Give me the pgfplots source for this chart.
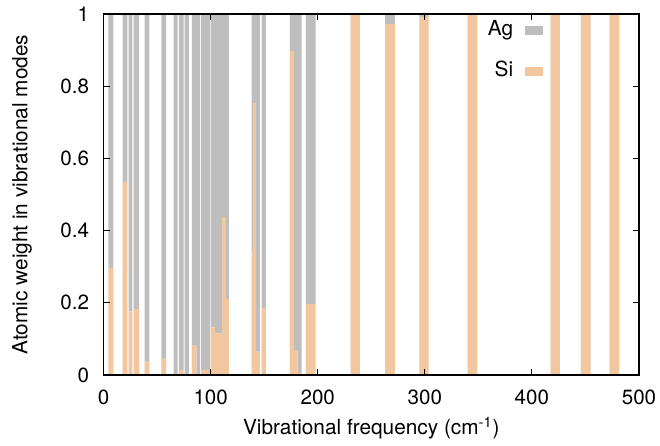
\documentclass[border=0pt]{standalone}
\usepackage{pgfplots}
\pgfplotsset{compat=1.18}
\usepackage{pgfplotstable}
\usepackage{fontspec}
\setmainfont{TeX Gyre Heros}
\definecolor{agc}{RGB}{190,190,190}
\definecolor{sic}{RGB}{242,199,160}
% each mode: rectangle edges (frequency, Si weight, Ag weight)
\pgfplotstableread{
x si ag
4.4 0 0
4.4 0.297 0.703
9.1 0.297 0.703
9.1 0 0
17.8 0 0
17.8 0.535 0.465
22.1 0.535 0.465
22.1 0 0
23.4 0 0
23.4 0.176 0.824
26.8 0.176 0.824
26.8 0 0
28.1 0 0
28.1 0.183 0.817
33.1 0.183 0.817
33.1 0 0
38.4 0 0
38.4 0.037 0.963
42.7 0.037 0.963
42.7 0 0
53.9 0 0
53.9 0.047 0.953
58.3 0.047 0.953
58.3 0 0
65.5 0 0
65.5 0 1
69.2 0 1
69.2 0 0
70.4 0 0
70.4 0.014 0.986
74.8 0.014 0.986
74.8 0 0
75.7 0 0
75.7 0 1
79.7 0 1
79.7 0 0
82.5 0 0
82.5 0.083 0.917
86.6 0.083 0.917
86.6 0 1
90.0 0 1
90.0 0 0
90.9 0 0
90.9 0.014 0.986
99.3 0.014 0.986
99.3 0 0
100 0 0
100 0.132 0.868
104 0.132 0.868
104 0.115 0.885
110.8 0.115 0.885
110.8 0.438 0.562
114.3 0.438 0.562
114.3 0.21 0.79
117.1 0.21 0.79
117.1 0 0
138.3 0 0
138.3 0.344 0.656
139.3 0.344 0.656
139.3 0.754 0.246
142.3 0.754 0.246
142.3 0.065 0.935
146 0.065 0.935
146 0 0
147.6 0 0
147.6 0.185 0.815
151.6 0.185 0.815
151.6 0 0
174 0 0
174 0.897 0.103
177.8 0.897 0.103
177.8 0.069 0.931
181.2 0.069 0.931
181.2 0.005 0.995
185 0.005 0.995
185 0 0
189 0 0
189 0.197 0.803
198 0.197 0.803
198 0 0
230.7 0 0
230.7 1 0
239.4 1 0
239.4 0 0
263 0 0
263 0.972 0.028
272.1 0.972 0.028
272.1 0 0
294.8 0 0
294.8 0.992 0.008
303.5 0.992 0.008
303.5 0 0
340 0 0
340 0.998 0.002
348.9 0.998 0.002
348.9 0 0
417.5 0 0
417.5 1 0
426.2 1 0
426.2 0 0
445.7 0 0
445.7 1 0
454.8 1 0
454.8 0 0
472.5 0 0
472.5 1 0
481.5 1 0
481.5 0 0
}\modes
\begin{document}
\begin{tikzpicture}
\begin{axis}[
  scale only axis, width=267.7pt, height=180.5pt,
  xmin=0, xmax=500, ymin=0, ymax=1,
  xtick={0,100,200,300,400,500},
  ytick={0,0.2,0.4,0.6,0.8,1},
  minor tick num=0,
  tick align=inside, major tick length=3pt,
  tick style={black, line width=0.5pt},
  axis line style={line width=0.6pt},
  axis on top,
  stack plots=y,
  /pgf/number format/assume math mode=true,
  tick label style={font=\fontsize{10.3pt}{12pt}\selectfont},
  label style={font=\fontsize{10.4pt}{12pt}\selectfont},
  xticklabel style={yshift=-4pt},
  yticklabel style={xshift=-3.7pt},
  xlabel={Vibrational frequency (cm\textsuperscript{-1})},
  ylabel={Atomic weight in vibrational modes},
  xlabel style={at={(axis description cs:0.5,-0.1468)}, anchor=center},
  ylabel style={at={(axis description cs:-0.1524,0.5)}, anchor=center},
  reverse legend,
  legend plot pos=right,
  legend cell align=right,
  legend style={draw=none, fill=none, at={(0.821,0.8975)}, anchor=east,
    inner sep=0pt, outer sep=0pt, row sep=11.5pt, column sep=6pt,
    font=\fontsize{10.4pt}{12pt}\selectfont,
    nodes={inner sep=0pt, text height=7pt, text depth=2pt}},
  legend image code/.code={\fill[#1] (0pt,-2.25pt) rectangle (9pt,2.25pt);},
]
\addplot[fill=sic, draw=none, mark=none] table[x=x, y=si] {\modes} \closedcycle;
\addplot[fill=agc, draw=none, mark=none] table[x=x, y=ag] {\modes} \closedcycle;
\legend{Si, Ag}
\end{axis}
\pgfresetboundingbox
\path ([shift={(-51.8pt,-35pt)}]current axis.south west) rectangle ([shift={(10.5pt,7pt)}]current axis.north east);
\end{tikzpicture}
\end{document}
